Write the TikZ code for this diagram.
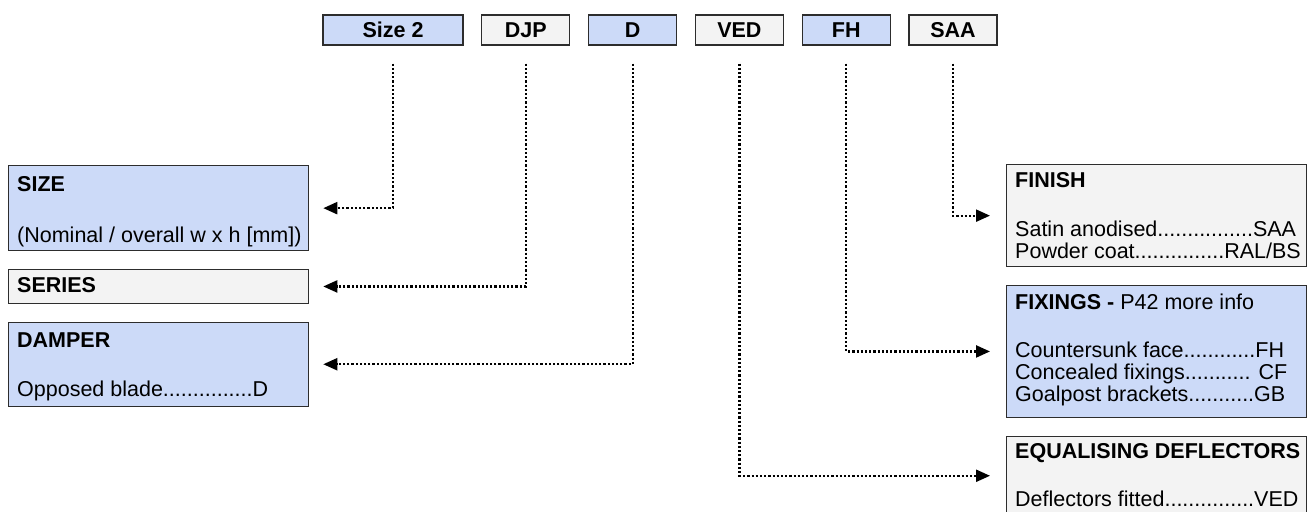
\documentclass[tikz,border=0pt]{standalone}
\usepackage{fontspec}
\setmainfont{Liberation Sans}
\usetikzlibrary{arrows.meta,positioning}
\definecolor{codeblue}{RGB}{204,218,248}
\definecolor{codegray}{RGB}{243,243,243}
\definecolor{edgegray}{RGB}{45,45,45}
\newcommand\pxfont{\fontsize{21.5}{22}\selectfont}
\tikzset{
  code/.style={draw=edgegray, line width=1.3pt, minimum height=30pt, minimum width=88pt, inner sep=0pt, font=\pxfont\bfseries},
  opt/.style={draw=edgegray, line width=1.3pt, minimum width=300pt, anchor=north west, inner sep=0pt},
  txt/.style={anchor=base west, inner sep=0pt, font=\pxfont},
  hd/.style={txt, font=\pxfont\bfseries},
  link/.style={line width=2.2pt, dash pattern=on 2.2pt off 2pt, -{Triangle[length=14pt,width=12pt]}}
}
\begin{document}
\begin{tikzpicture}[x=1pt,y=-1pt,node distance=17.5pt]
   \useasboundingbox (0,0) rectangle (1313,511);
   \clip (0,0) rectangle (1313,511);

   % product code
   \node[code, fill=codeblue, minimum width=140pt] (sz) at (393,30) {Size 2};
   \node[code, fill=codegray, right=of sz]  (djp) {DJP};
   \node[code, fill=codeblue, right=of djp] (dmp) {D};
   \node[code, fill=codegray, right=of dmp] (ved) {VED};
   \node[code, fill=codeblue, right=of ved] (fh)  {FH};
   \node[code, fill=codegray, right=of fh]  (saa) {SAA};

   % left column
   \node[opt, fill=codeblue, minimum height=85pt] (size) at (8,165) {};
   \node[opt, fill=codegray, minimum height=34pt, below=of size] (series) {};
   \node[opt, fill=codeblue, minimum height=84pt, below=of series] (damper) {};

   % right column
   \node[opt, fill=codegray, minimum height=102pt] (finish) at (1006,164) {};
   \node[opt, fill=codeblue, minimum height=132pt, below=of finish] (fix) {};
   \node[opt, fill=codegray, minimum height=79pt, below=of fix] (defl) {};

   \node[hd]  (sizehd) at ([xshift=9pt,yshift=-26pt]size.north west) {SIZE};
   \node[txt] (sizetx) at ([xshift=9pt,yshift=-77pt]size.north west) {(Nominal / overall w x h [mm])};
   \node[hd]  (serieshd) at ([xshift=9pt,yshift=-24pt]series.north west) {SERIES};
   \node[hd]  (damperhd) at ([xshift=9pt,yshift=-26pt]damper.north west) {DAMPER};
   \node[txt] (dampertx) at ([xshift=9pt,yshift=-75pt]damper.north west) {Opposed blade...............D};

   \node[hd]  (finishhd) at ([xshift=9pt,yshift=-23pt]finish.north west) {FINISH};
   \node[txt] (finisha) at ([xshift=9pt,yshift=-72pt]finish.north west) {Satin anodised................SAA};
   \node[txt] (finishb) at ([xshift=9pt,yshift=-94pt]finish.north west) {Powder coat...............RAL/BS};
   \node[txt] (fixhd) at ([xshift=9pt,yshift=-25pt]fix.north west) {\textbf{FIXINGS -} P42 more info};
   \node[txt] (fixa) at ([xshift=9pt,yshift=-73pt]fix.north west) {Countersunk face............FH};
   \node[txt] (fixb) at ([xshift=9pt,yshift=-95pt]fix.north west) {Concealed fixings........... CF};
   \node[txt] (fixc) at ([xshift=9pt,yshift=-117pt]fix.north west) {Goalpost brackets...........GB};
   \node[hd]  (deflhd) at ([xshift=9pt,yshift=-23pt]defl.north west) {EQUALISING DEFLECTORS};
   \node[txt] (defla) at ([xshift=9pt,yshift=-71pt]defl.north west) {Deflectors fitted...............VED};

   % connectors
   \draw[link] ([yshift=-18pt]sz.south)  |- ([xshift=14pt]size.east);
   \draw[link] ([yshift=-18pt]djp.south) |- ([xshift=14pt]series.east);
   \draw[link] ([yshift=-18pt]dmp.south) |- ([xshift=14pt]damper.east);
   \draw[link] ([yshift=-18pt]ved.south) |- ([xshift=-16pt]defl.west);
   \draw[link] ([yshift=-18pt]fh.south)  |- ([xshift=-16pt]fix.west);
   \draw[link] ([yshift=-18pt]saa.south) |- ([xshift=-16pt]finish.west);
\end{tikzpicture}
\end{document}
